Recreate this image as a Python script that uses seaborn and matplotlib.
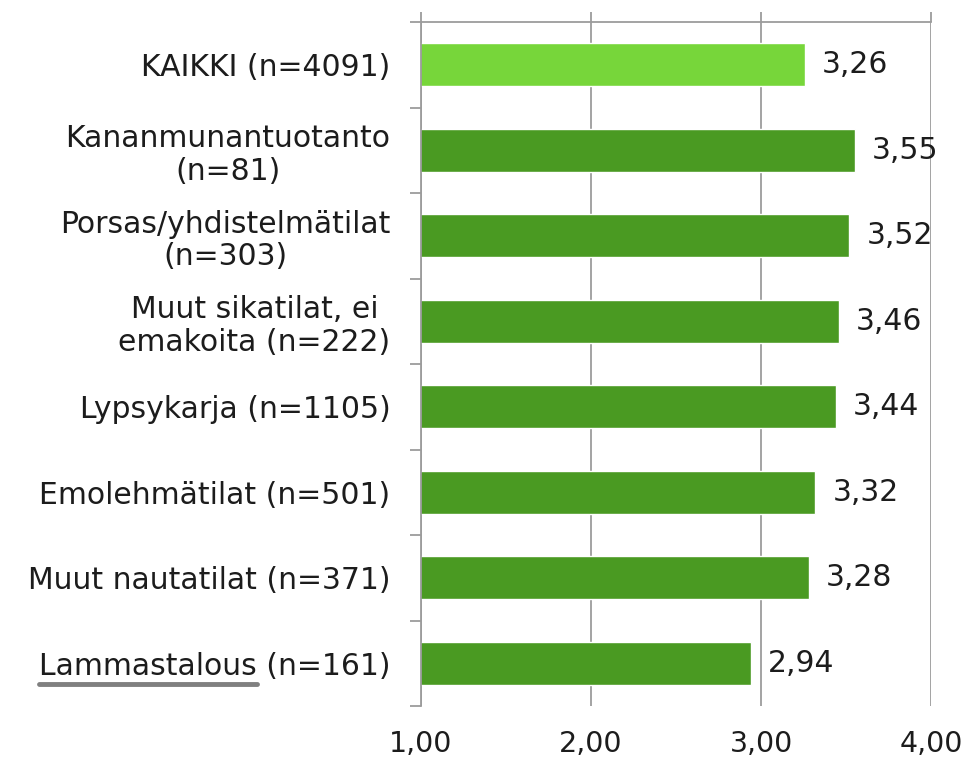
"""Horizontal bar chart: average score per production sector."""

import matplotlib
matplotlib.use("Agg")
import matplotlib.pyplot as plt
import pandas as pd
import seaborn as sns
from matplotlib.lines import Line2D

# data
categories = [
    "KAIKKI (n=4091)",
    "Kananmunantuotanto\n(n=81)",
    "Porsas/yhdistelmätilat\n(n=303)",
    "Muut sikatilat, ei\nemakoita (n=222)",
    "Lypsykarja (n=1105)",
    "Emolehmätilat (n=501)",
    "Muut nautatilat (n=371)",
    "Lammastalous (n=161)",
]
scores = [3.26, 3.55, 3.52, 3.46, 3.44, 3.32, 3.28, 2.94]
x_ticks = [1.0, 2.0, 3.0, 4.0]

LIGHT_GREEN = "#77d63a"
DARK_GREEN = "#4a9a22"
GRID_GRAY = "#9c9c9c"
TEXT = "#1c1c1c"
FS = 21.5


def fi_num(v):
    return f"{v:.2f}".replace(".", ",")


sns.set_theme(style="white")
plt.rcParams["font.family"] = ["DejaVu Sans"]

df = pd.DataFrame({"sector": categories, "score": scores})
colors = [LIGHT_GREEN] + [DARK_GREEN] * (len(categories) - 1)

fig = plt.figure(figsize=(9.71, 7.59), dpi=100)
ax = fig.add_axes([421 / 971, 1 - 706 / 759, (931 - 421) / 971, (706 - 22) / 759])

sns.barplot(
    data=df, x="score", y="sector", hue="sector", palette=colors,
    orient="h", width=0.5, legend=False, saturation=1, ax=ax,
)

ax.set_xlim(1, 4)
ax.set_ylim(len(categories) - 0.5, -0.5)
ax.set_xlabel("")
ax.set_ylabel("")

# gridlines behind bars
ax.set_axisbelow(True)
ax.set_xticks(x_ticks)
ax.set_xticklabels([fi_num(t) for t in x_ticks])
ax.grid(axis="x", color=GRID_GRAY, linewidth=1.3)

for side in ["right", "bottom"]:
    ax.spines[side].set_visible(False)
for side in ["top", "left"]:
    ax.spines[side].set_color(GRID_GRAY)
    ax.spines[side].set_linewidth(1.3)

ax.tick_params(axis="x", top=True, bottom=False, labeltop=False, labelbottom=True,
               direction="out", length=7, width=1.3, color=GRID_GRAY,
               labelsize=FS - 1, labelcolor=TEXT, pad=10)
ax.tick_params(axis="y", which="major", length=0, pad=22, labelsize=FS, labelcolor=TEXT)
ax.set_yticks([i - 0.5 for i in range(len(categories) + 1)], minor=True)
ax.tick_params(axis="y", which="minor", left=True, length=8, width=1.3, color=GRID_GRAY)

for lab in ax.get_yticklabels():
    lab.set_multialignment("center")
    lab.set_linespacing(1.15)

# value labels at the bar ends
for i, v in enumerate(scores):
    ax.text(v + 0.1, i, fi_num(v), va="center", ha="left", fontsize=FS, color=TEXT)

# grey underline under "Lammastalous" as in the original
fig.canvas.draw()
renderer = fig.canvas.get_renderer()
last = ax.get_yticklabels()[-1]
bb = last.get_window_extent(renderer)
probe = fig.text(0, 0, "Lammastalous", fontsize=FS)
wbb = probe.get_window_extent(renderer)
probe.remove()
W, H = fig.bbox.width, fig.bbox.height
y_line = (bb.y0 - 3) / H
fig.add_artist(Line2D([bb.x0 / W, (bb.x0 + wbb.width) / W], [y_line, y_line],
                      color="#808080", linewidth=3.5, transform=fig.transFigure))

fig.savefig("out.png", dpi=100)
